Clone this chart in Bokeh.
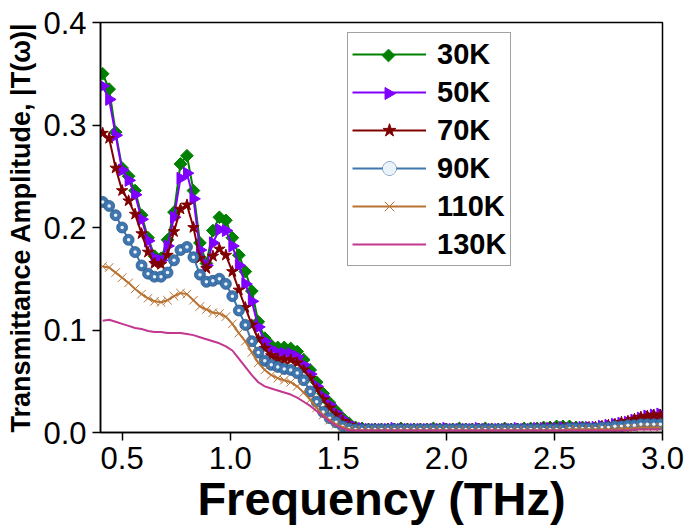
import numpy as np
from bokeh.plotting import figure
from bokeh.models import Range1d, Legend, LegendItem, FixedTicker, NumeralTickFormatter
from bokeh.embed import file_html
from bokeh.resources import INLINE

# frequency grid (THz)
freq = [round(0.41 + 0.03 * i, 2) for i in range(87)]

t30 = [0.350, 0.335, 0.293, 0.258, 0.250, 0.236, 0.212, 0.190, 0.172, 0.170,
       0.188, 0.215, 0.262, 0.270, 0.236, 0.185, 0.165, 0.197, 0.210, 0.207,
       0.190, 0.173, 0.157, 0.138, 0.108, 0.092, 0.085, 0.083, 0.083, 0.082,
       0.079, 0.071, 0.061, 0.049, 0.038, 0.029, 0.021, 0.014, 0.009, 0.005,
       0.004, 0.003, 0.003, 0.003, 0.003, 0.003, 0.004, 0.003, 0.003, 0.003,
       0.003, 0.004, 0.003, 0.003, 0.003, 0.004, 0.003, 0.003, 0.003, 0.004,
       0.003, 0.003, 0.004, 0.003, 0.003, 0.004, 0.004, 0.004, 0.005, 0.005,
       0.006, 0.006, 0.006, 0.005, 0.005, 0.004, 0.004, 0.005, 0.005, 0.006,
       0.006, 0.007, 0.008, 0.009, 0.009, 0.010, 0.010]

t50 = [0.338, 0.325, 0.290, 0.256, 0.246, 0.232, 0.208, 0.187, 0.170, 0.168,
       0.182, 0.210, 0.248, 0.253, 0.228, 0.178, 0.163, 0.185, 0.198, 0.197,
       0.182, 0.163, 0.145, 0.128, 0.103, 0.089, 0.081, 0.078, 0.077, 0.077,
       0.074, 0.066, 0.057, 0.045, 0.035, 0.027, 0.019, 0.013, 0.008, 0.005,
       0.004, 0.003, 0.003, 0.003, 0.003, 0.004, 0.003, 0.003, 0.003, 0.003,
       0.003, 0.003, 0.003, 0.004, 0.003, 0.003, 0.003, 0.003, 0.004, 0.003,
       0.003, 0.003, 0.003, 0.003, 0.004, 0.003, 0.003, 0.004, 0.004, 0.004,
       0.004, 0.005, 0.004, 0.004, 0.005, 0.005, 0.005, 0.006, 0.007, 0.008,
       0.009, 0.010, 0.012, 0.014, 0.016, 0.017, 0.018]

t70 = [0.292, 0.287, 0.258, 0.236, 0.226, 0.213, 0.194, 0.176, 0.165, 0.164,
       0.173, 0.196, 0.218, 0.222, 0.200, 0.170, 0.160, 0.172, 0.179, 0.173,
       0.157, 0.139, 0.122, 0.105, 0.091, 0.082, 0.075, 0.072, 0.071, 0.071,
       0.068, 0.061, 0.053, 0.042, 0.032, 0.024, 0.017, 0.011, 0.007, 0.004,
       0.003, 0.003, 0.003, 0.003, 0.003, 0.003, 0.003, 0.003, 0.003, 0.003,
       0.003, 0.003, 0.003, 0.003, 0.003, 0.003, 0.003, 0.003, 0.003, 0.003,
       0.003, 0.003, 0.003, 0.003, 0.003, 0.003, 0.003, 0.003, 0.004, 0.004,
       0.004, 0.004, 0.004, 0.004, 0.004, 0.005, 0.005, 0.006, 0.007, 0.008,
       0.010, 0.011, 0.013, 0.015, 0.016, 0.017, 0.017]

t90 = [0.225, 0.221, 0.212, 0.200, 0.188, 0.176, 0.163, 0.155, 0.152, 0.152,
       0.156, 0.168, 0.178, 0.181, 0.171, 0.154, 0.147, 0.148, 0.150, 0.145,
       0.133, 0.119, 0.105, 0.089, 0.078, 0.070, 0.066, 0.064, 0.062, 0.061,
       0.058, 0.051, 0.040, 0.030, 0.020, 0.014, 0.010, 0.006, 0.004, 0.003,
       0.003, 0.003, 0.003, 0.003, 0.003, 0.003, 0.003, 0.003, 0.003, 0.003,
       0.003, 0.003, 0.003, 0.003, 0.003, 0.003, 0.003, 0.003, 0.003, 0.003,
       0.003, 0.003, 0.003, 0.003, 0.003, 0.003, 0.003, 0.003, 0.003, 0.003,
       0.003, 0.003, 0.004, 0.004, 0.004, 0.004, 0.004, 0.005, 0.005, 0.006,
       0.006, 0.007, 0.007, 0.008, 0.008, 0.008, 0.008]

t110 = [0.162, 0.161, 0.156, 0.151, 0.146, 0.140, 0.135, 0.131, 0.128, 0.127,
        0.129, 0.133, 0.136, 0.135, 0.129, 0.123, 0.120, 0.117, 0.116, 0.113,
        0.106, 0.097, 0.089, 0.078, 0.068, 0.061, 0.056, 0.053, 0.051, 0.049,
        0.045, 0.039, 0.032, 0.024, 0.017, 0.012, 0.008, 0.005, 0.003, 0.002,
        0.002, 0.002, 0.002, 0.002, 0.002, 0.002, 0.002, 0.002, 0.002, 0.002,
        0.002, 0.002, 0.002, 0.002, 0.002, 0.002, 0.002, 0.002, 0.002, 0.002,
        0.002, 0.002, 0.002, 0.002, 0.002, 0.002, 0.002, 0.002, 0.002, 0.002,
        0.002, 0.002, 0.003, 0.003, 0.003, 0.003, 0.003, 0.003, 0.003, 0.003,
        0.004, 0.004, 0.004, 0.005, 0.005, 0.005, 0.005]

t130 = [0.109, 0.110, 0.108, 0.106, 0.104, 0.102, 0.101, 0.099, 0.098, 0.098,
        0.097, 0.097, 0.097, 0.096, 0.095, 0.093, 0.091, 0.089, 0.087, 0.084,
        0.080, 0.072, 0.064, 0.056, 0.049, 0.045, 0.043, 0.041, 0.039, 0.037,
        0.034, 0.030, 0.026, 0.021, 0.016, 0.011, 0.007, 0.004, 0.002, 0.002,
        0.002, 0.002, 0.002, 0.002, 0.002, 0.002, 0.002, 0.002, 0.002, 0.002,
        0.002, 0.002, 0.002, 0.002, 0.002, 0.002, 0.002, 0.002, 0.002, 0.002,
        0.002, 0.002, 0.002, 0.002, 0.002, 0.002, 0.002, 0.002, 0.002, 0.002,
        0.002, 0.002, 0.002, 0.002, 0.002, 0.002, 0.002, 0.002, 0.002, 0.002,
        0.002, 0.002, 0.003, 0.003, 0.003, 0.003, 0.003]

labels = ["30K", "50K", "70K", "90K", "110K", "130K"]
x_ticks = [0.5, 1.0, 1.5, 2.0, 2.5, 3.0]
y_ticks = [0.0, 0.1, 0.2, 0.3, 0.4]

FONT = "Liberation Sans"
X0, X1, Y0, Y1 = 0.4, 3.0, 0.0, 0.4

# layout (pixels)
W, H = 685, 530
BL, BR, BT, BB = 100, 23, 22, 98
FW, FH = W - BL - BR, H - BT - BB

p = figure(width=W, height=H, output_backend="svg", toolbar_location=None,
           x_range=Range1d(X0, X1), y_range=Range1d(Y0, Y1),
           min_border_left=BL, min_border_right=BR, min_border_top=BT,
           min_border_bottom=BB)
p.grid.visible = False
p.background_fill_color = "white"
p.border_fill_color = "white"
p.outline_line_color = "black"
p.outline_line_width = 1.5

for ax in (p.xaxis[0], p.yaxis[0]):
    ax.axis_line_width = 1.5
    ax.axis_line_color = "black"
    ax.major_tick_line_color = "black"
    ax.major_tick_line_width = 1.5
    ax.major_tick_in = 0
    ax.major_tick_out = 8
    ax.minor_tick_line_color = None
    ax.major_label_text_font = FONT
    ax.major_label_text_font_size = "31px"
    ax.major_label_text_color = "black"
    ax.axis_label_text_font = FONT
    ax.axis_label_text_font_style = "bold"
    ax.axis_label_text_color = "black"
    ax.formatter = NumeralTickFormatter(format="0.0")

p.xaxis.ticker = FixedTicker(ticks=x_ticks)
p.yaxis.ticker = FixedTicker(ticks=y_ticks)
p.xaxis.axis_label = "Frequency (THz)"
p.xaxis.axis_label_text_font_size = "47px"
p.xaxis.major_label_standoff = 6
p.xaxis.axis_label_standoff = 0
p.yaxis.axis_label = "Transmittance Amplitude, |T(\u03c9)|"
p.yaxis.axis_label_text_font_size = "27px"
p.yaxis.major_label_standoff = 6
p.yaxis.axis_label_standoff = 4

items = []

c30 = "#008000"
l30 = p.line(freq, t30, line_color=c30, line_width=2)
p.scatter(freq, t30, marker="square", angle=np.pi / 4, size=9,
          fill_color=c30, line_color=c30)
items.append(LegendItem(label=labels[0], renderers=[l30]))

c50 = "#8000FF"
l50 = p.line(freq, t50, line_color=c50, line_width=2)
p.scatter(freq, t50, marker="triangle", angle=-np.pi / 2, size=12,
          fill_color=c50, line_color=c50)
items.append(LegendItem(label=labels[1], renderers=[l50]))

c70 = "#800000"
l = p.line(freq, t70, line_color=c70, line_width=2)
m = p.scatter(freq, t70, marker="star", size=12,
              fill_color=c70, line_color=c70)
items.append(LegendItem(label=labels[2], renderers=[l, m]))

c90 = "#3F76B0"
l = p.line(freq, t90, line_color=c90, line_width=2)
m = p.scatter(freq, t90, marker="circle", size=11,
              fill_color=c90, line_color="#2E5C8A", line_width=0.8)
h = p.scatter(freq, t90, marker="circle", size=3.5,
              fill_color="#EAF2FA", line_color=None)
items.append(LegendItem(label=labels[3], renderers=[l, m, h]))

c110 = "#B87333"
l = p.line(freq, t110, line_color=c110, line_width=2)
m = p.scatter(freq, t110, marker="x", size=12, line_color=c110, line_width=1)
items.append(LegendItem(label=labels[4], renderers=[l, m]))

c130 = "#C2378F"
l = p.line(freq, t130, line_color=c130, line_width=2)
items.append(LegendItem(label=labels[5], renderers=[l]))

# legend geometry (pixels, relative to the plot frame)
LG_PAD, LG_ITEM, LG_SP, LG_GW = 4, 34, 4, 74
LG_LEFT, LG_BOTTOM = 247, 166
lg_h = 2 * LG_PAD + 6 * LG_ITEM + 5 * LG_SP

legend = Legend(items=items, location=(LG_LEFT, LG_BOTTOM))
legend.border_line_color = "#444444"
legend.border_line_width = 1.5
legend.background_fill_alpha = 0.0
legend.label_text_font = FONT
legend.label_text_font_style = "bold"
legend.label_text_font_size = "29px"
legend.label_text_color = "black"
legend.glyph_width = LG_GW
legend.glyph_height = LG_ITEM
legend.label_height = LG_ITEM
legend.spacing = LG_SP
legend.padding = LG_PAD
legend.margin = 0
legend.label_standoff = 11
p.add_layout(legend)

# legend markers whose orientation the Legend cannot draw (rotated glyphs)
gx_px = LG_LEFT + LG_PAD + LG_GW / 2
row_px = [LG_BOTTOM + lg_h - LG_PAD - LG_ITEM / 2 - i * (LG_ITEM + LG_SP) for i in range(2)]
gx = X0 + gx_px / FW * (X1 - X0)
gy = [Y0 + r / FH * (Y1 - Y0) for r in row_px]
p.scatter([gx], [gy[0]], marker="square", angle=np.pi / 4, size=9,
          fill_color=c30, line_color=c30)
p.scatter([gx], [gy[1]], marker="triangle", angle=-np.pi / 2, size=12,
          fill_color=c50, line_color=c50)

open("out.html", "w").write(file_html(p, INLINE))
